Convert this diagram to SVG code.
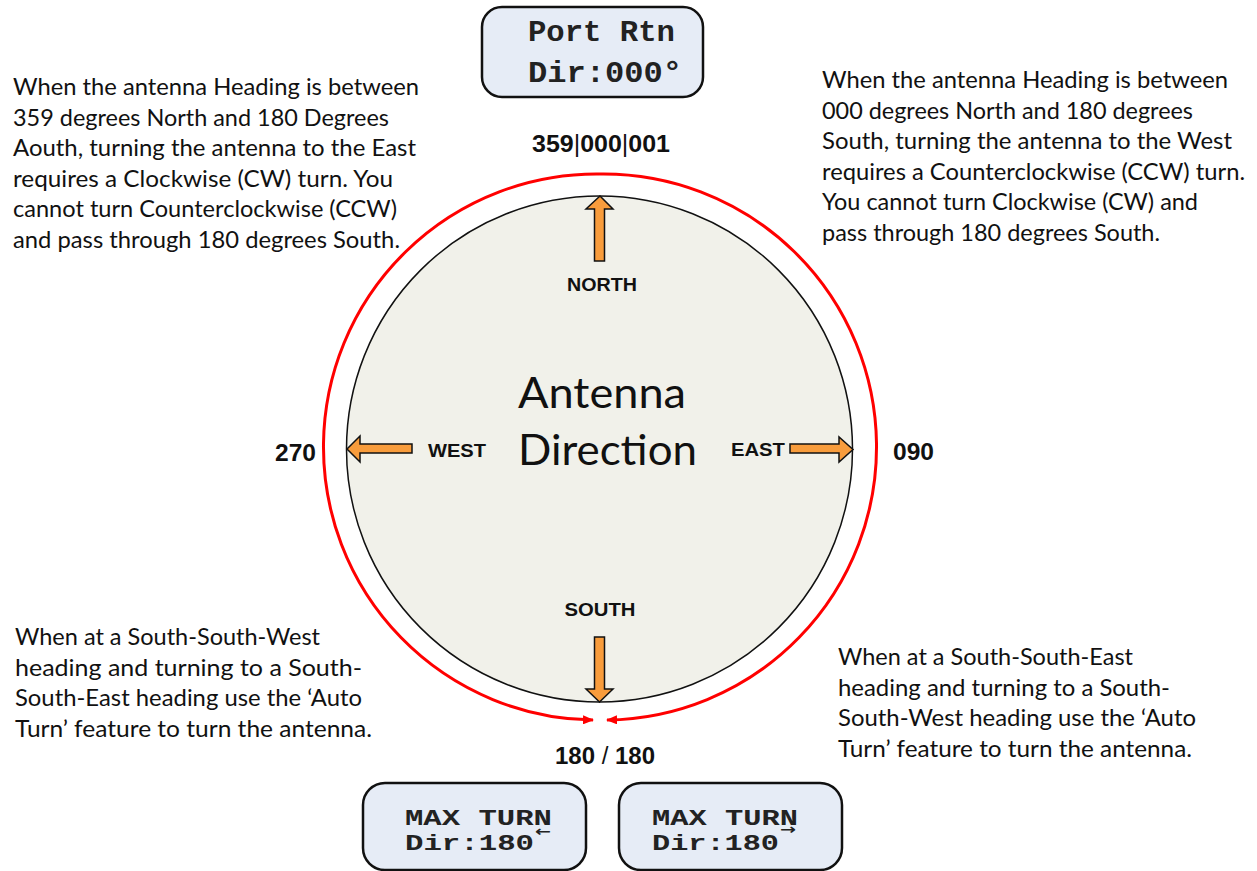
<svg xmlns="http://www.w3.org/2000/svg" width="1257" height="871" viewBox="0 0 1257 871">
<style>
.para{font-family:Lato,"Open Sans","Liberation Sans",sans-serif;font-size:23px;fill:#111}
.lbl{font-family:"Liberation Sans",Arial,sans-serif;font-weight:bold;font-size:19px;fill:#111}
.num{font-family:"Liberation Sans",Arial,sans-serif;font-weight:bold;font-size:23px;fill:#111}
.mono{font-family:"Liberation Mono","Courier New",monospace;font-weight:bold;font-size:29px;fill:#222}
.mono2{font-family:"Liberation Mono","Courier New",monospace;font-weight:bold;font-size:22px;fill:#222}
.sarr{font-family:"DejaVu Sans",sans-serif;font-weight:bold;font-size:14px;fill:#222}
.box{fill:#E6ECF6;stroke:#111;stroke-width:2.5}
.oarrow{fill:#F89C3C;stroke:#111;stroke-width:1.5;stroke-linejoin:miter}
.red{fill:none;stroke:#FF0000;stroke-width:3}
.big{font-family:Lato,"Open Sans","Liberation Sans",sans-serif;font-weight:normal;font-size:43px;fill:#111}
.thin{font-weight:normal}
</style>
<defs>
<marker id="redhead" markerUnits="userSpaceOnUse" markerWidth="11" markerHeight="9" refX="10" refY="4.5" orient="auto">
<path d="M0,0 L11,4.5 L0,9 z" fill="#FF0000"/>
</marker>
</defs>

<g id="compass">
<circle cx="599.5" cy="449" r="253" fill="#F1F1EA" stroke="#111" stroke-width="1.5"/>
<text class="big" x="602" y="408" text-anchor="middle" textLength="168" lengthAdjust="spacingAndGlyphs">Antenna</text>
<text class="big" x="607.5" y="465" text-anchor="middle" textLength="179" lengthAdjust="spacingAndGlyphs">Direction</text>
</g>

<g id="connectors">
<path class="red" d="M600,174 A273,273 0 0 0 593,720" marker-end="url(#redhead)"/>
<path class="red" d="M600,174 A273,273 0 0 1 607,720" marker-end="url(#redhead)"/>
</g>

<g id="arrow-north">
<polygon class="oarrow" points="600,196 613,209 604.5,209 604.5,261 594.5,261 594.5,209 586,209"/>
<text class="lbl" x="602" y="291" text-anchor="middle" textLength="70" lengthAdjust="spacingAndGlyphs">NORTH</text>
</g>
<g id="arrow-south">
<polygon class="oarrow" points="594.5,637 604.5,637 604.5,689 613,689 599.5,702 586,689 594.5,689"/>
<text class="lbl" x="600" y="616" text-anchor="middle" textLength="71" lengthAdjust="spacingAndGlyphs">SOUTH</text>
</g>
<g id="arrow-west">
<polygon class="oarrow" points="347,449 360,436 360,444 412,444 412,453 360,453 360,462"/>
<text class="lbl" x="428" y="457" textLength="58" lengthAdjust="spacingAndGlyphs">WEST</text>
</g>
<g id="arrow-east">
<polygon class="oarrow" points="790,444 839,444 839,437 853,449.5 839,462 839,453 790,453"/>
<text class="lbl" x="731" y="456" textLength="54" lengthAdjust="spacingAndGlyphs">EAST</text>
</g>

<g id="degree-labels">
<text class="num" x="275" y="461" textLength="41" lengthAdjust="spacingAndGlyphs">270</text>
<text class="num" x="893" y="460" textLength="41" lengthAdjust="spacingAndGlyphs">090</text>
<text class="num" x="532" y="152" textLength="138" lengthAdjust="spacingAndGlyphs">359<tspan class="thin">|</tspan>000<tspan class="thin">|</tspan>001</text>
<text class="num" x="555" y="764" textLength="100" lengthAdjust="spacingAndGlyphs">180 <tspan class="thin">/</tspan> 180</text>
</g>

<g id="box-port-rtn">
<rect class="box" x="482" y="7" width="221" height="90" rx="20" ry="20"/>
<text class="mono" x="528" y="41" textLength="147" lengthAdjust="spacingAndGlyphs">Port Rtn</text>
<text class="mono" x="528" y="82" textLength="154" lengthAdjust="spacingAndGlyphs">Dir:000°</text>
</g>

<g id="box-max-turn-left">
<rect class="box" x="363" y="783" width="223" height="87" rx="22" ry="22"/>
<text class="mono2" x="405" y="825" textLength="147" lengthAdjust="spacingAndGlyphs">MAX TURN</text>
<text class="mono2" x="405" y="850" textLength="129" lengthAdjust="spacingAndGlyphs">Dir:180</text>
<text class="sarr" x="535" y="836" textLength="16" lengthAdjust="spacingAndGlyphs">←</text>
</g>

<g id="box-max-turn-right">
<rect class="box" x="619" y="783" width="223" height="87" rx="22" ry="22"/>
<text class="mono2" x="652" y="825" textLength="146" lengthAdjust="spacingAndGlyphs">MAX TURN</text>
<text class="mono2" x="652" y="850" textLength="127" lengthAdjust="spacingAndGlyphs">Dir:180</text>
<text class="sarr" x="780" y="834" textLength="16" lengthAdjust="spacingAndGlyphs">→</text>
</g>

<g id="note-top-left">
<text class="para" x="13" y="95" textLength="406" lengthAdjust="spacingAndGlyphs">When the antenna Heading is between</text>
<text class="para" x="13" y="125.5" textLength="376" lengthAdjust="spacingAndGlyphs">359 degrees North and 180 Degrees</text>
<text class="para" x="13" y="156" textLength="403" lengthAdjust="spacingAndGlyphs">Aouth, turning the antenna to the East</text>
<text class="para" x="13" y="186.5" textLength="380" lengthAdjust="spacingAndGlyphs">requires a Clockwise (CW) turn.  You</text>
<text class="para" x="13" y="217" textLength="384" lengthAdjust="spacingAndGlyphs">cannot turn Counterclockwise (CCW)</text>
<text class="para" x="13" y="247.5" textLength="387" lengthAdjust="spacingAndGlyphs">and pass through 180 degrees South.</text>
</g>

<g id="note-top-right">
<text class="para" x="822" y="88" textLength="406" lengthAdjust="spacingAndGlyphs">When the antenna Heading is between</text>
<text class="para" x="822" y="118.5" textLength="371" lengthAdjust="spacingAndGlyphs">000 degrees North and 180 degrees</text>
<text class="para" x="822" y="149" textLength="410" lengthAdjust="spacingAndGlyphs">South, turning the antenna to the West</text>
<text class="para" x="822" y="179.5" textLength="423" lengthAdjust="spacingAndGlyphs">requires a Counterclockwise (CCW) turn.</text>
<text class="para" x="822" y="210" textLength="376" lengthAdjust="spacingAndGlyphs">You cannot turn Clockwise (CW) and</text>
<text class="para" x="822" y="240.5" textLength="338" lengthAdjust="spacingAndGlyphs">pass through 180 degrees South.</text>
</g>

<g id="note-bottom-left">
<text class="para" x="15" y="645" textLength="305" lengthAdjust="spacingAndGlyphs">When at a South-South-West</text>
<text class="para" x="15" y="675.5" textLength="347" lengthAdjust="spacingAndGlyphs">heading and turning to a South-</text>
<text class="para" x="15" y="706" textLength="347" lengthAdjust="spacingAndGlyphs">South-East heading use the ‘Auto</text>
<text class="para" x="15" y="736.5" textLength="357" lengthAdjust="spacingAndGlyphs">Turn’ feature to turn the antenna.</text>
</g>

<g id="note-bottom-right">
<text class="para" x="838" y="665" textLength="295" lengthAdjust="spacingAndGlyphs">When at a South-South-East</text>
<text class="para" x="838" y="695.5" textLength="332" lengthAdjust="spacingAndGlyphs">heading and turning to a South-</text>
<text class="para" x="838" y="726" textLength="358" lengthAdjust="spacingAndGlyphs">South-West heading use the ‘Auto</text>
<text class="para" x="838" y="756.5" textLength="354" lengthAdjust="spacingAndGlyphs">Turn’ feature to turn the antenna.</text>
</g>
</svg>
